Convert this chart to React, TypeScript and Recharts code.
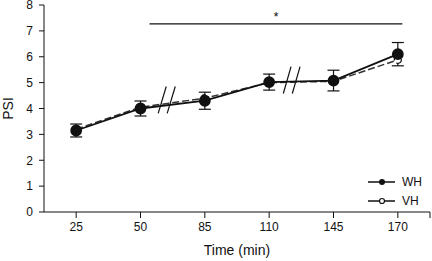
import React from 'react';
import {
    LineChart,
    Line,
    XAxis,
    YAxis,
    ErrorBar,
    ReferenceLine,
    Label
} from 'recharts';

// time points (min), evenly spaced on the axis
const TIME_LABELS = ['25', '50', '85', '110', '145', '170'];
const WH_VALUES = [3.15, 4.0, 4.3, 5.02, 5.08, 6.1];
const WH_ERRORS = [0.25, 0.29, 0.33, 0.31, 0.4, 0.45];
const VH_VALUES = [3.2, 4.05, 4.4, 5.0, 5.05, 5.88];
const Y_TICKS = [0, 1, 2, 3, 4, 5, 6, 7, 8];
const SERIES_NAMES = ['WH', 'VH'];

const data = TIME_LABELS.map((t, i) => ({
    i,
    time: t,
    wh: WH_VALUES[i],
    whErr: WH_ERRORS[i],
    vh: VH_VALUES[i]
}));

const FONT = '"Liberation Sans", Arial, sans-serif';

// legend drawn by hand in the bottom-right corner of the plot
const ChartLegend = () => (
    <svg width={70} height={34} style={{ position: 'absolute', left: 366, top: 173 }}>
        <g>
            <line x1={2} y1={9} x2={29} y2={9} stroke="#111" strokeWidth={1.5} />
            <circle cx={16} cy={9} r={3} fill="#111" />
            <text x={36} y={13} fontSize={12} fontFamily={FONT} fill="#111">{SERIES_NAMES[0]}</text>
        </g>
        <g>
            <line x1={2} y1={28} x2={29} y2={28} stroke="#111" strokeWidth={1.5} />
            <circle cx={16} cy={28} r={2.5} fill="#fff" stroke="#111" strokeWidth={1.2} />
            <text x={36} y={32} fontSize={12} fontFamily={FONT} fill="#111">{SERIES_NAMES[1]}</text>
        </g>
    </svg>
);

export default function App() {
    return (
        <div style={{ position: 'absolute', left: 0, top: 0, width: 432, height: 261, background: '#fff' }}>
            <LineChart width={432} height={261} data={data} margin={{ top: 5, right: 2, left: 0, bottom: 0 }}>
                <XAxis
                    dataKey="i"
                    type="number"
                    domain={[-0.5, 5.5]}
                    ticks={[0, 1, 2, 3, 4, 5, 5.5]}
                    interval={0}
                    tickFormatter={(v) => TIME_LABELS[v] ?? ''}
                    height={49}
                    stroke="#111"
                    tickSize={6}
                    tick={{ fontSize: 12, fill: '#111', fontFamily: FONT }}
                    tickMargin={4}
                >
                    <Label value="Time (min)" position="insideBottom" offset={6} style={{ fontSize: 14, fill: '#111', fontFamily: FONT }} />
                </XAxis>
                <YAxis
                    domain={[0, 8]}
                    ticks={Y_TICKS}
                    interval={0}
                    width={44}
                    stroke="#111"
                    tickSize={5}
                    tick={{ fontSize: 12, fill: '#111', fontFamily: FONT }}
                    tickMargin={6}
                >
                    <Label value="PSI" angle={-90} position="insideLeft" offset={8} style={{ fontSize: 14, fill: '#111', fontFamily: FONT, textAnchor: 'middle' }} />
                </YAxis>
                {/* significance bar */}
                <ReferenceLine segment={[{ x: 1.14, y: 7.27 }, { x: 5.07, y: 7.27 }]} stroke="#111" strokeWidth={1.2}>
                    <Label value="*" position="top" offset={3} style={{ fontSize: 13, fill: '#111', fontFamily: FONT }} />
                </ReferenceLine>
                {/* axis break marks */}
                <ReferenceLine segment={[{ x: 1.275, y: 3.81 }, { x: 1.4, y: 4.85 }]} stroke="#111" strokeWidth={1.2} />
                <ReferenceLine segment={[{ x: 1.415, y: 3.81 }, { x: 1.54, y: 4.85 }]} stroke="#111" strokeWidth={1.2} />
                <ReferenceLine segment={[{ x: 3.22, y: 4.58 }, { x: 3.34, y: 5.62 }]} stroke="#111" strokeWidth={1.2} />
                <ReferenceLine segment={[{ x: 3.36, y: 4.58 }, { x: 3.48, y: 5.62 }]} stroke="#111" strokeWidth={1.2} />
                <Line
                    dataKey="vh"
                    stroke="#333"
                    strokeWidth={1.5}
                    strokeDasharray="7 3"
                    dot={{ r: 3.5, fill: '#fff', stroke: '#111', strokeWidth: 1.2 }}
                    isAnimationActive={false}
                />
                <Line
                    dataKey="wh"
                    stroke="#111"
                    strokeWidth={1.8}
                    dot={{ r: 5, fill: '#111', stroke: '#111' }}
                    isAnimationActive={false}
                >
                    <ErrorBar dataKey="whErr" width={6} stroke="#111" strokeWidth={1.2} direction="y" />
                </Line>
            </LineChart>
            <ChartLegend />
        </div>
    );
}
